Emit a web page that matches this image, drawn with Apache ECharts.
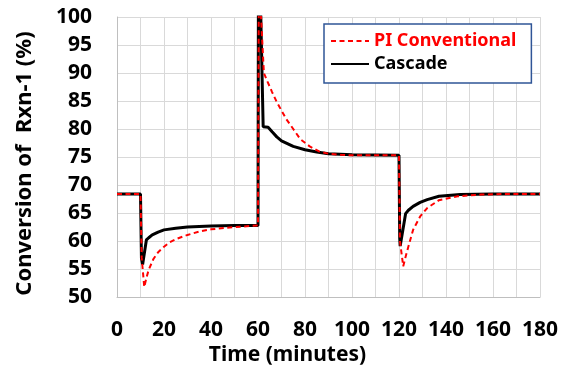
<!DOCTYPE html>
<html>
<head>
<meta charset="utf-8">
<script src="https://cdn.jsdelivr.net/npm/echarts@6/dist/echarts.min.js"></script>
<style>html,body{margin:0;padding:0;background:#fff;}#chart{width:571px;height:371px;}</style>
</head>
<body>
<div id="chart"></div>
<script>
var xTicks = [0, 20, 40, 60, 80, 100, 120, 140, 160, 180];
var yTicks = [50, 55, 60, 65, 70, 75, 80, 85, 90, 95, 100];

var piTime = [0, 10, 10.5, 11.6, 12.5, 13.5, 15.5, 17.5, 20, 22.5, 25.4, 30, 35, 40, 50, 60,
  60.4, 61.3, 62.5, 64, 66, 68, 70, 72, 75, 78, 82, 86, 90, 95, 100, 110, 120,
  120.4, 121.8, 123, 124.5, 126, 129, 132, 137, 145, 155, 165, 180];
var piValues = [68.4, 68.4, 57.0, 51.8, 53.4, 54.9, 56.8, 58.0, 59.0, 59.8, 60.4, 61.1, 61.7, 62.1, 62.5, 62.8,
  110, 100, 90.0, 88.5, 86.6, 84.8, 83.3, 81.8, 80.0, 78.2, 76.9, 76.0, 75.6, 75.4, 75.3, 75.3, 75.3,
  60.0, 55.5, 57.5, 59.8, 62.0, 64.4, 65.9, 67.3, 68.0, 68.3, 68.4, 68.4];

var cascadeTime = [0, 10, 10.4, 10.9, 12.5, 13.5, 15, 17.5, 20, 25, 30, 40, 50, 60,
  60.2, 61.2, 62.2, 64.3, 66, 68, 70, 75, 80, 85, 90, 100, 120,
  120.3, 120.5, 122.8, 124, 126, 129, 132, 137, 146, 160, 180];
var cascadeValues = [68.4, 68.4, 57.0, 55.8, 60.2, 60.6, 61.1, 61.6, 62.0, 62.3, 62.5, 62.7, 62.8, 62.8,
  110, 100, 80.4, 80.3, 79.5, 78.6, 77.9, 76.9, 76.3, 75.9, 75.6, 75.4, 75.3,
  60.5, 59.1, 64.9, 65.5, 66.2, 66.9, 67.4, 68.0, 68.3, 68.4, 68.4];

function zip(a, b) { return a.map(function (v, i) { return [v, b[i]]; }); }

var FONT = '"Noto Sans", "Liberation Sans", sans-serif';
var chart = echarts.init(document.getElementById('chart'), null, { renderer: 'canvas' });
chart.setOption({
  animation: false,
  backgroundColor: '#ffffff',
  grid: { left: 117, right: 31, top: 17, bottom: 73, containLabel: false },
  legend: {
    orient: 'vertical',
    left: 324, top: 24,
    padding: [8, 15, 10, 6],
    backgroundColor: '#ffffff',
    borderColor: '#2f5597',
    borderWidth: 1.5,
    borderRadius: 0,
    itemWidth: 38, itemHeight: 14, itemGap: 5,
    itemStyle: { opacity: 0 },
    textStyle: { fontFamily: FONT, fontWeight: 'bold', fontSize: 18 },
    data: [
      { name: 'PI Conventional', textStyle: { color: '#ff0000' } },
      { name: 'Cascade', textStyle: { color: '#000000' } }
    ]
  },
  xAxis: {
    type: 'value', min: 0, max: 180, interval: 10,
    name: 'Time (minutes)', nameLocation: 'middle', nameGap: 42,
    nameTextStyle: { fontFamily: FONT, fontWeight: 'bold', fontSize: 21, color: '#000', padding: [0, 82, 0, 0] },
    axisLine: { show: true, lineStyle: { color: '#bfbfbf', width: 1 } },
    axisTick: { show: false },
    axisLabel: {
      margin: 22, fontFamily: FONT, fontWeight: 'bold', fontSize: 21, color: '#000',
      formatter: function (v) { return xTicks.indexOf(v) >= 0 ? String(v) : ''; }
    },
    splitLine: { show: true, lineStyle: { color: '#d9d9d9', width: 1 } }
  },
  yAxis: {
    type: 'value', min: 50, max: 100, interval: 5,
    name: 'Conversion of  Rxn-1 (%)', nameLocation: 'middle', nameGap: 81,
    nameTextStyle: { fontFamily: FONT, fontWeight: 'bold', fontSize: 22, color: '#000', padding: [0, 13, 0, 0] },
    axisLine: { show: true, lineStyle: { color: '#bfbfbf', width: 1 } },
    axisTick: { show: false },
    axisLabel: {
      margin: 25, fontFamily: FONT, fontWeight: 'bold', fontSize: 21, color: '#000',
      formatter: function (v) { return yTicks.indexOf(v) >= 0 ? String(v) : ''; }
    },
    splitLine: { show: true, lineStyle: { color: '#d9d9d9', width: 1 } }
  },
  series: [
    {
      name: 'PI Conventional', type: 'line', data: zip(piTime, piValues),
      symbol: 'none', smooth: false, z: 4, clip: true,
      lineStyle: { color: '#ff0000', width: 2, type: [5, 3.5] },
      itemStyle: { color: '#ff0000' }
    },
    {
      name: 'Cascade', type: 'line', data: zip(cascadeTime, cascadeValues),
      symbol: 'none', smooth: false, z: 3, clip: true,
      lineStyle: { color: '#000000', width: 3 },
      itemStyle: { color: '#000000' }
    }
  ]
});
</script>
</body>
</html>
